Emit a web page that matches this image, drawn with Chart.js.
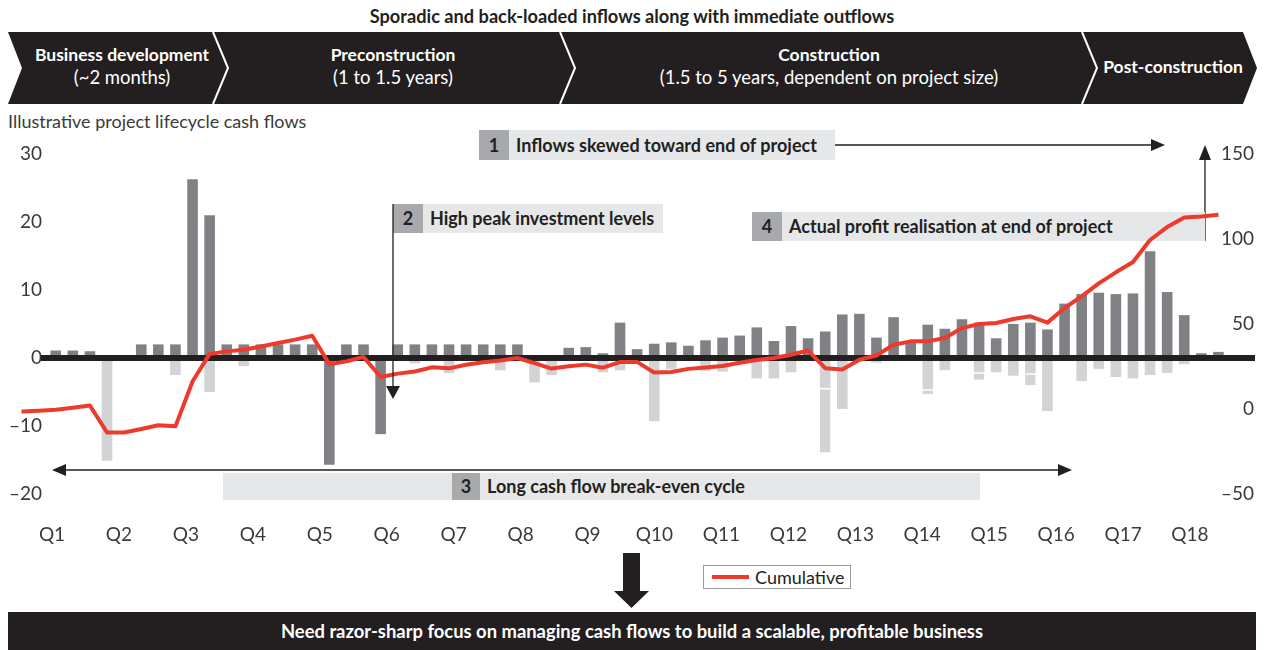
<!DOCTYPE html>
<html>
<head>
<meta charset="utf-8">
<script src="https://cdn.jsdelivr.net/npm/chart.js@4.4.1/dist/chart.umd.min.js"></script>
<style>
body{margin:0;width:1264px;height:650px;position:relative;overflow:hidden;background:#fff;font-family:Lato,"Noto Sans",sans-serif;color:#231f20}
.abs{position:absolute;white-space:nowrap}
.layer{position:absolute;left:0;top:0}
#chartWrap{position:absolute;left:0;top:0;width:1264px;height:650px;z-index:2}
.bg{z-index:1}
.fg{z-index:3}
.title{left:0;width:1264px;top:5px;text-align:center;font-weight:700;font-size:18.2px}
.phase{color:#fff;text-align:center;transform:translateX(-50%);font-size:18.5px;line-height:23px;top:43px;z-index:1}
.phase b{font-size:17.5px}
.sub{left:8px;top:110px;font-size:18px;color:#3a3a3a}
.call{display:flex;height:30px;line-height:30px;font-weight:700;font-size:18px;background:#e6e7e8;z-index:1}
.call .n{width:30px;text-align:center;background:#a7a9ac}
.call .t{padding-left:7px}
.legend{left:703px;top:565px;width:146px;height:22px;border:1px solid #9a9a9a;font-size:18px;line-height:22px;z-index:1}
.legend i{position:absolute;left:8px;top:9px;width:37px;height:4px;background:#ee3a2c}
.legend span{position:absolute;left:51px;top:0}
.banner{left:8px;top:612px;width:1248px;height:38px;background:#231f20;color:#fff;text-align:center;line-height:38px;font-weight:700;font-size:18.4px;z-index:1}
</style>
</head>
<body>

<div class="abs title">Sporadic and back-loaded inflows along with immediate outflows</div>

<svg class="layer bg" width="1264" height="650">
  <polygon points="8,32 1243,32 1257,68 1243,104 8,104 22,68" fill="#231f20"/>
  <polyline points="213,32 228,68 213,104" stroke="#fff" stroke-width="2" fill="none"/>
  <polyline points="560,32 575,68 560,104" stroke="#fff" stroke-width="2" fill="none"/>
  <polyline points="1082,32 1097,68 1082,104" stroke="#fff" stroke-width="2" fill="none"/>
  <line x1="835" y1="145" x2="1152" y2="145" stroke="#231f20" stroke-width="1.3"/>
  <polygon points="1151,139 1165,145 1151,151" fill="#231f20"/>
  <line x1="1205" y1="241" x2="1205" y2="158" stroke="#231f20" stroke-width="1.3"/>
  <polygon points="1199,160 1205,145 1211,160" fill="#231f20"/>
  <rect x="223" y="473" width="757" height="27" fill="#e6e7e8"/>
  <line x1="62" y1="470" x2="1062" y2="470" stroke="#231f20" stroke-width="1.3"/>
  <polygon points="52,470 66,464 66,476" fill="#231f20"/>
  <polygon points="1072,470 1058,464 1058,476" fill="#231f20"/>
  <rect x="623" y="553" width="17" height="39" fill="#231f20"/>
  <polygon points="614,591 649,591 631.5,608" fill="#231f20"/>
</svg>

<div class="abs phase" style="left:122px"><b>Business development</b><br>(~2 months)</div>
<div class="abs phase" style="left:393px"><b>Preconstruction</b><br>(1 to 1.5 years)</div>
<div class="abs phase" style="left:829px"><b>Construction</b><br>(1.5 to 5 years, dependent on project size)</div>
<div class="abs phase" style="left:1173px;top:55px"><b>Post-construction</b></div>

<div class="abs sub">Illustrative project lifecycle cash flows</div>

<div class="abs call" style="left:479px;top:130px;width:356px"><div class="n">1</div><div class="t">Inflows skewed toward end of project</div></div>
<div class="abs call" style="left:393px;top:204px;width:270px;height:29px;line-height:29px"><div class="n">2</div><div class="t">High peak investment levels</div></div>
<div class="abs call" style="left:752px;top:212px;width:453px;height:29px;line-height:29px"><div class="n">4</div><div class="t">Actual profit realisation at end of project</div></div>
<div class="abs call" style="left:452px;top:473px;height:27px;line-height:27px;background:transparent"><div class="n" style="width:28px">3</div><div class="t">Long cash flow break-even cycle</div></div>

<div id="chartWrap"><canvas id="chart" width="1264" height="650"></canvas></div>

<svg class="layer fg" width="1264" height="650">
  <line x1="393" y1="204" x2="393" y2="388" stroke="#231f20" stroke-width="1.3"/>
  <polygon points="386,386 400,386 393,399" fill="#231f20"/>
</svg>

<div class="abs legend"><i></i><span>Cumulative</span></div>
<div class="abs banner">Need razor-sharp focus on managing cash flows to build a scalable, profitable business</div>

<script>
// Quarter tick labels
const QUARTERS = ["Q1","Q2","Q3","Q4","Q5","Q6","Q7","Q8","Q9","Q10","Q11","Q12","Q13","Q14","Q15","Q16","Q17","Q18"];

// bar slots, 71 of them
const INFLOWS = [null,null,1.1,1.1,1.0,null,null,2.0,2.0,2.0,
  26.3,21.0,2.0,2.0,2.0,2.0,2.0,2.0,-15.7,2.0,
  2.0,-11.2,2.0,2.0,2.0,2.0,2.0,2.0,2.0,2.0,
  null,null,1.5,1.6,0.7,5.2,1.3,2.1,2.3,1.8,
  2.6,3.0,3.3,4.5,2.5,4.7,2.9,3.9,6.4,6.5,
  3.0,6.0,2.5,4.9,4.3,5.7,5.2,2.9,5.0,5.2,
  4.2,8.0,9.4,9.6,9.4,9.5,15.7,9.7,6.3,0.7,0.9];

const OUTFLOWS = [null,null,null,null,null,-15.1,null,null,null,-2.5,
  null,-5.0,null,-1.2,null,null,null,null,null,null,
  null,null,null,-0.8,null,-2.2,null,null,-1.8,null,
  -3.6,-2.5,null,null,-2.1,-1.8,null,-9.3,-1.6,null,
  -1.9,-2.0,null,-3.0,-3.0,-2.1,null,-4.4,-7.5,null,
  -0.7,null,null,-4.6,-1.8,null,-2.1,-2.1,-2.6,-2.25,
  -7.8,null,-3.4,-1.6,-2.8,-3.0,-2.5,-2.2,-0.9,null,null];

const OUTFLOWS_OTHER = [null,null,null,null,null,null,null,null,null,null,
  null,null,null,null,null,null,null,null,null,null,
  null,null,null,null,null,null,null,null,null,null,
  null,null,null,null,null,null,null,null,null,null,
  null,null,null,null,null,null,null,-9.5,null,null,
  null,null,null,-0.7,null,null,-1.1,null,null,-1.75,
  null,null,null,null,null,null,null,null,null,null,null];

const CUMULATIVE = [-1.4,-1.0,-0.4,0.8,2.0,-13.8,-13.8,-11.8,-9.6,-10.2,
  16.2,32.4,33.9,34.9,36.8,38.8,40.8,43.1,26.3,28.0,
  30.6,18.8,20.8,22.1,24.5,23.9,26.0,27.5,28.5,30.0,
  27.0,23.8,25.2,26.1,24.3,27.6,27.7,21.4,21.8,23.6,
  24.4,25.3,27.2,28.8,30.0,31.9,34.4,24.0,23.3,29.0,
  31.5,37.8,39.8,39.8,41.8,47.6,50.0,50.6,52.9,54.5,
  50.8,59.4,66.2,73.9,80.4,86.5,99.4,107.0,112.7,113.3,114.3];

const PERIODS = INFLOWS.map((_, i) => "M" + (i + 1));

const DARK = "#808184";
const LIGHT = "#d1d3d4";
const RED = "#ee3a2c";
const INK = "#231f20";
const FONT = "Lato, 'Noto Sans', sans-serif";

const fmt = v => v < 0 ? "\u2013" + Math.abs(v) : String(v);

// thick zero line, drawn between the bars and the cumulative line
const baseline = {
  id: "baseline",
  beforeDatasetDraw(chart, args){
    if(args.meta.type !== "line") return;
    const c = chart.ctx;
    const y = chart.scales.y.getPixelForValue(0);
    c.save();
    c.fillStyle = INK;
    c.fillRect(41, y - 3, 1214, 6);
    c.restore();
  }
};

const noGrid = {display:false, drawTicks:false, tickLength:0};

const ctx = document.getElementById("chart").getContext("2d");

new Chart(ctx, {
  type: "bar",
  data: {
    labels: PERIODS,
    datasets: [
      {type:"line", label:"Cumulative", data:CUMULATIVE, xAxisID:"x", yAxisID:"y1",
        borderColor:RED, borderWidth:4, pointRadius:0, tension:0, borderJoinStyle:"round"},
      {label:"Inflows", data:INFLOWS, xAxisID:"x", yAxisID:"y", stack:"cf",
        backgroundColor:DARK, barPercentage:0.62, categoryPercentage:1},
      {label:"Outflows", data:OUTFLOWS, xAxisID:"x", yAxisID:"y", stack:"cf",
        backgroundColor:LIGHT, barPercentage:0.62, categoryPercentage:1},
      {label:"Outflows (other)", data:OUTFLOWS_OTHER, xAxisID:"x", yAxisID:"y", stack:"cf",
        backgroundColor:LIGHT, borderColor:"#ffffff", borderWidth:{top:1.5}, borderSkipped:false,
        barPercentage:0.62, categoryPercentage:1}
    ]
  },
  options: {
    responsive:false,
    animation:false,
    layout:{padding:{top:154, left:13, right:37, bottom:0}},
    plugins:{legend:{display:false}, tooltip:{enabled:false}},
    scales:{
      x:{display:false, offset:true, stacked:true},
      xq:{type:"linear", position:"bottom", bounds:"data", offset:false, min:0.4174, max:18.553,
        grid:noGrid, border:{display:false},
        afterBuildTicks(s){ s.ticks = QUARTERS.map((q, i) => ({value:i + 1})); },
        afterFit(s){ s.height = 156; },
        ticks:{padding:29, maxRotation:0, autoSkip:false, color:"#3a3a3a", font:{family:FONT, size:19},
          callback:v => QUARTERS[v - 1]}},
      y:{position:"left", min:-20, max:30, stacked:true,
        grid:noGrid, border:{display:false},
        afterFit(s){ s.width = 0; },
        ticks:{stepSize:10, mirror:true, crossAlign:"far", padding:-4,
          color:"#3a3a3a", font:{family:FONT, size:19}, callback:fmt}},
      y1:{position:"right", min:-50, max:150,
        grid:noGrid, border:{display:false},
        afterFit(s){ s.width = 0; },
        ticks:{stepSize:50, mirror:true, crossAlign:"near", padding:27,
          color:"#3a3a3a", font:{family:FONT, size:19}, callback:fmt}}
    }
  },
  plugins:[baseline]
});
</script>
</body>
</html>
